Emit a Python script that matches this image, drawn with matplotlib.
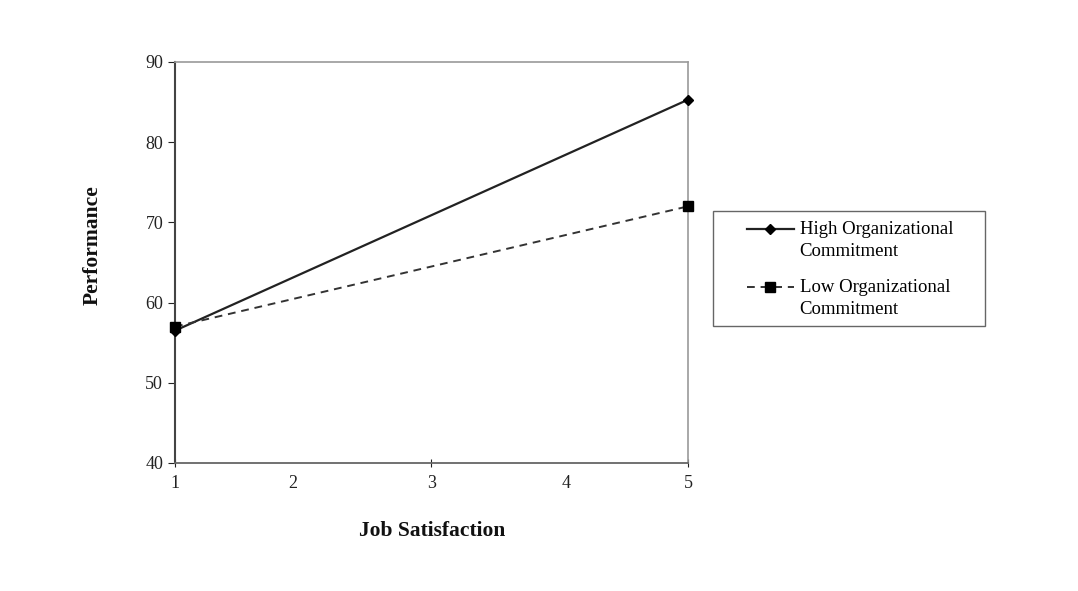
import matplotlib.pyplot as plt
from matplotlib.patches import Rectangle
from matplotlib.legend_handler import HandlerLine2D

job_satisfaction = [1, 5]
high_commitment = [56.5, 85.3]
low_commitment = [57.0, 72.0]
high_label = 'High Organizational\nCommitment'
low_label = 'Low Organizational\nCommitment'

plt.rcParams['font.family'] = ['Liberation Serif', 'DejaVu Serif']


class RaisedLineHandler(HandlerLine2D):
    # put the legend sample beside the first line of a two-line label
    def create_artists(self, legend, orig_handle, xdescent, ydescent,
                       width, height, fontsize, trans):
        lift = 8.0
        return super().create_artists(legend, orig_handle, xdescent, ydescent,
                                      width, height + 2 * lift, fontsize, trans)


fig = plt.figure(figsize=(10.78, 5.91), dpi=100)
ax = fig.add_axes([0.1623, 0.2166, 0.4759, 0.6785])

ax.plot(job_satisfaction, high_commitment, color='#222222', lw=1.6,
        marker='D', markersize=5, markerfacecolor='black', markeredgecolor='black',
        label=high_label, clip_on=False, zorder=3)
ax.plot(job_satisfaction, low_commitment, color='#333333', lw=1.4, ls=(0, (4, 3)),
        marker='s', markersize=7, markerfacecolor='black', markeredgecolor='black',
        label=low_label, clip_on=False, zorder=3)

ax.set_xlim(1, 5)
ax.set_ylim(40, 90)
ax.set_yticks([40, 50, 60, 70, 80, 90])
ax.set_xticks([1, 3, 5], ['1', '3', '5'])
ax.set_xticks([1.92, 4.05], ['2', '4'], minor=True)
ax.tick_params(axis='x', which='minor', length=0, pad=9)
ax.tick_params(axis='x', which='major', direction='inout', length=6, pad=6, color='#555555')
ax.tick_params(axis='y', direction='out', length=5, color='#555555')
ax.tick_params(which='both', labelsize=13, colors='#222222')

for side in ['top', 'right']:
    ax.spines[side].set_color('#9a9a9a')
    ax.spines[side].set_linewidth(1.2)
ax.spines['left'].set_color('#444444')
ax.spines['left'].set_linewidth(1.5)
ax.spines['bottom'].set_color('#666666')
ax.spines['bottom'].set_linewidth(1.3)

fig.text(432 / 1078, 1 - 531 / 591, 'Job Satisfaction', ha='center', va='center',
         fontsize=15.5, fontweight='bold', color='#111111')
fig.text(93 / 1078, 1 - 245 / 591, 'Performance', ha='center', va='center',
         rotation=90, fontsize=15.5, fontweight='bold', color='#111111')

# legend box drawn separately, entries placed inside it
fig.patches.append(Rectangle((713 / 1078, 1 - 326 / 591), 272 / 1078, 115 / 591,
                             transform=fig.transFigure, fill=False,
                             edgecolor='#666666', lw=1.0))
leg = fig.legend(loc='upper left', bbox_to_anchor=(747 / 1078, 1 - 221 / 591),
                 fontsize=13.5, frameon=False, borderpad=0, borderaxespad=0,
                 handlelength=2.5, handletextpad=0.3, labelspacing=1.0,
                 handler_map={ln: RaisedLineHandler() for ln in ax.get_lines()})
for t in leg.get_texts():
    t.set_linespacing(1.4)

fig.savefig('out.png', dpi=100)
